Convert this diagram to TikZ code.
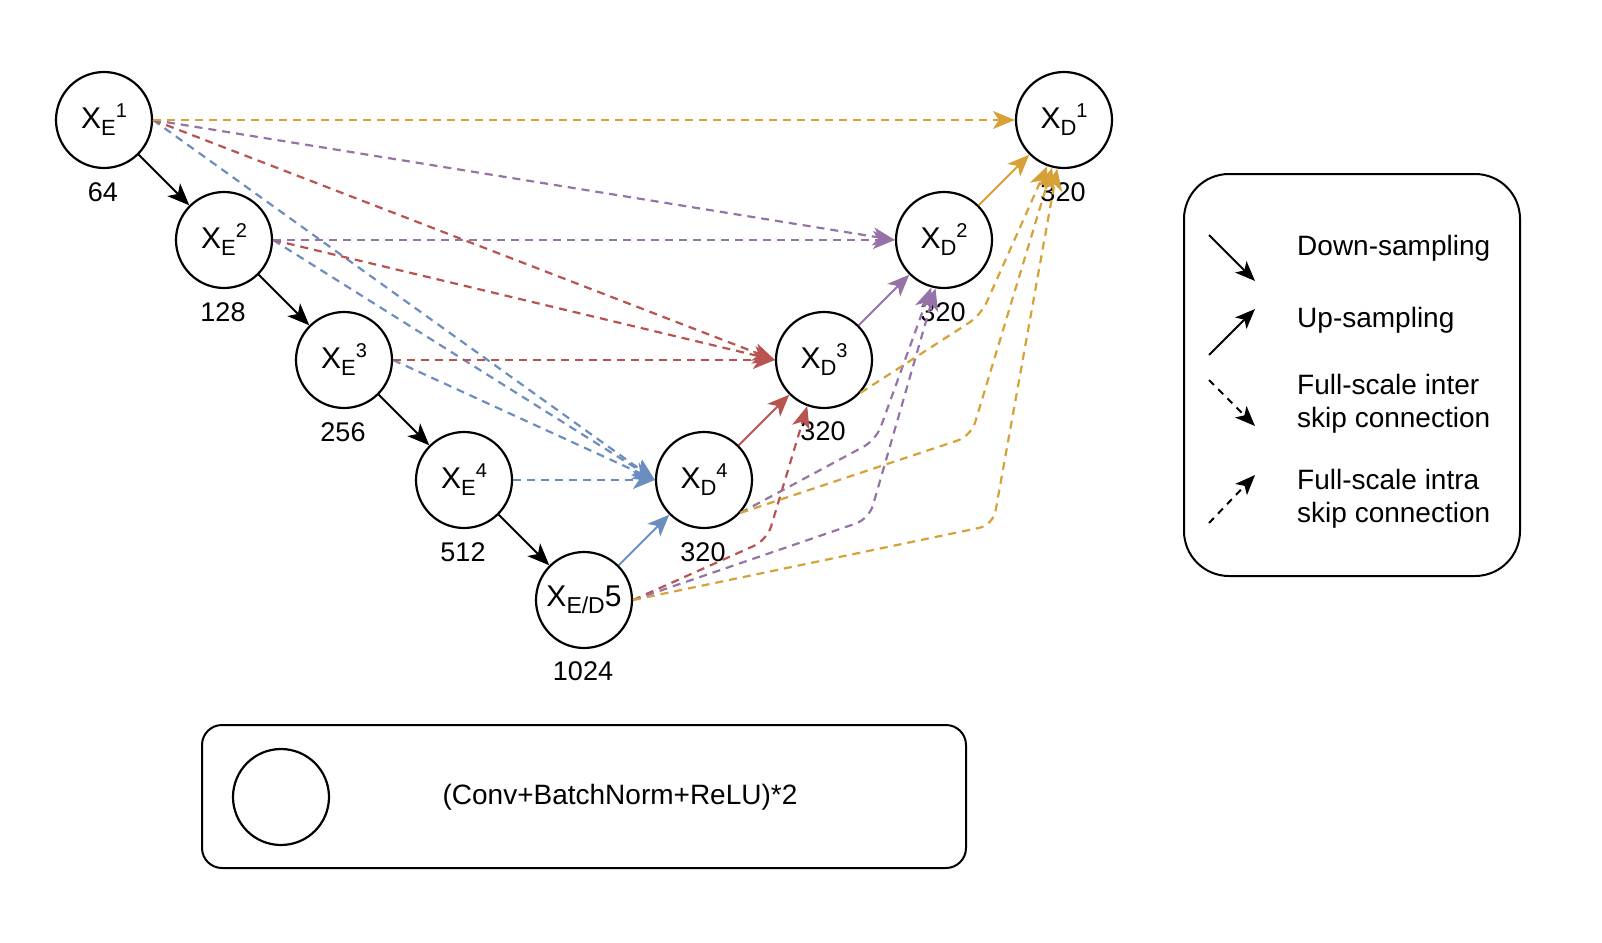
\documentclass[tikz,border=0pt]{standalone}
\usepackage{fontspec}
\setmainfont{Liberation Sans}
\usetikzlibrary{arrows.meta}
\definecolor{cblue}{HTML}{6C8EBF}
\definecolor{cred}{HTML}{B85450}
\definecolor{cpurple}{HTML}{9673A6}
\definecolor{cgold}{HTML}{D6A136}
\newcommand\xlab[2]{X\raisebox{-7pt}{\fontsize{22}{22}\selectfont #1}\raisebox{11pt}{\fontsize{20}{20}\selectfont #2}}
\begin{document}
\begin{tikzpicture}[x=1pt,y=-1pt,
  unit/.style={circle,draw,fill=white,line width=2.2pt,minimum size=96pt,inner sep=0pt,font=\fontsize{30}{32}\selectfont},
  num/.style={font=\fontsize{27}{30}\selectfont,inner sep=0pt},
  legtxt/.style={font=\fontsize{28}{33}\selectfont,inner sep=0pt,anchor=west,align=left},
  tipa/.style={-{Stealth[length=22pt,width=18pt,inset=6pt]}},
  downarr/.style={tipa,line width=2pt,black},
  uparr/.style={tipa,line width=2pt},
  skiparr/.style={tipa,line width=2.2pt,dash pattern=on 8pt off 6pt,rounded corners=14pt},
  legarr/.style={-{Stealth[length=20pt,width=16pt,inset=5pt]},line width=2pt,black},
  legdash/.style={legarr,dash pattern=on 7pt off 6pt},
]
\useasboundingbox (0,0) rectangle (1602,942);

% nodes
\node[unit] (xe1) at (104,120) {\xlab{E}{1}};
\node[unit] (xe2) at (224,240) {\xlab{E}{2}};
\node[unit] (xe3) at (344,360) {\xlab{E}{3}};
\node[unit] (xe4) at (464,480) {\xlab{E}{4}};
\node[unit] (xe5) at (584,600) {X\raisebox{-7pt}{\fontsize{23}{23}\selectfont E/D}5};
\node[unit] (xd4) at (704,480) {\xlab{D}{4}};
\node[unit] (xd3) at (824,360) {\xlab{D}{3}};
\node[unit] (xd2) at (944,240) {\xlab{D}{2}};
\node[unit] (xd1) at (1064,120) {\xlab{D}{1}};

% channel labels
\node[num] (n1) at (103,192) {64};
\node[num] (n2) at (223,312) {128};
\node[num] (n3) at (343,432) {256};
\node[num] (n4) at (463,552) {512};
\node[num] (n5) at (583,671) {1024};
\node[num] (n6) at (703,552) {320};
\node[num] (n7) at (823,431) {320};
\node[num] (n8) at (943,312) {320};
\node[num] (n9) at (1063,192) {320};

% skip connections to XD4 (blue)
\draw[skiparr,cblue] (xe1.east) -- (xd4.west);
\draw[skiparr,cblue] (xe2.east) -- (xd4.west);
\draw[skiparr,cblue] (xe3.east) -- (xd4.west);
\draw[skiparr,cblue] (xe4.east) -- (xd4.west);
% to XD3 (red)
\draw[skiparr,cred] (xe1.east) -- (xd3.west);
\draw[skiparr,cred] (xe2.east) -- (xd3.west);
\draw[skiparr,cred] (xe3.east) -- (xd3.west);
\draw[skiparr,cred] (xe5.east) -- (767,540) -- (xd3.-110);
% to XD2 (purple)
\draw[skiparr,cpurple] (xe1.east) -- (xd2.west);
\draw[skiparr,cpurple] (xe2.east) -- (xd2.west);
\draw[skiparr,cpurple] (xd4.-42) -- (876,440) -- (xd2.-105);
\draw[skiparr,cpurple] (xe5.east) -- (869,519) -- (xd2.-100);
% to XD1 (gold)
\draw[skiparr,cgold] (xe1.east) -- (xd1.west);
\draw[skiparr,cgold] (xd3.-42) -- (981,315) -- (xd1.-110);
\draw[skiparr,cgold] (xd4.-42) -- (971,436) -- (xd1.-104);
\draw[skiparr,cgold] (xe5.east) -- (993,525) -- (xd1.-98);

% down-sampling
\draw[downarr] (xe1.-45) -- (xe2.135);
\draw[downarr] (xe2.-45) -- (xe3.135);
\draw[downarr] (xe3.-45) -- (xe4.135);
\draw[downarr] (xe4.-45) -- (xe5.135);
% up-sampling
\draw[uparr,cblue] (xe5.45) -- (xd4.225);
\draw[uparr,cred] (xd4.45) -- (xd3.225);
\draw[uparr,cpurple] (xd3.45) -- (xd2.225);
\draw[uparr,cgold] (xd2.45) -- (xd1.225);

% legend
\node[draw,line width=2pt,rounded corners=45pt,minimum width=336pt,minimum height=402pt,inner sep=0pt] (legend) at (1352,375) {};
\coordinate (a1) at (1209,235); \coordinate (b1) at (1255,281);
\coordinate (a2) at (1209,355); \coordinate (b2) at (1255,309);
\coordinate (a3) at (1209,380); \coordinate (b3) at (1255,426);
\coordinate (a4) at (1209,523); \coordinate (b4) at (1255,475);
\draw[legarr] (a1) -- (b1);
\draw[legarr] (a2) -- (b2);
\draw[legdash] (a3) -- (b3);
\draw[legdash] (a4) -- (b4);
\node[legtxt] (t1) at (1297,248) {Down-sampling};
\node[legtxt] (t2) at (1297,320) {Up-sampling};
\node[legtxt] (t3) at (1297,404) {Full-scale inter\\skip connection};
\node[legtxt] (t4) at (1297,499) {Full-scale intra\\skip connection};

% bottom box
\node[draw,line width=2pt,rounded corners=20pt,minimum width=764pt,minimum height=143pt,inner sep=0pt] (bbox) at (584,796.5) {};
\node[circle,draw,line width=2.2pt,minimum size=96pt,inner sep=0pt] (sample) at (281,797) {};
\node[font=\fontsize{28}{30}\selectfont,inner sep=0pt] (btxt) at (620,797) {(Conv+BatchNorm+ReLU)*2};
\end{tikzpicture}
\end{document}
